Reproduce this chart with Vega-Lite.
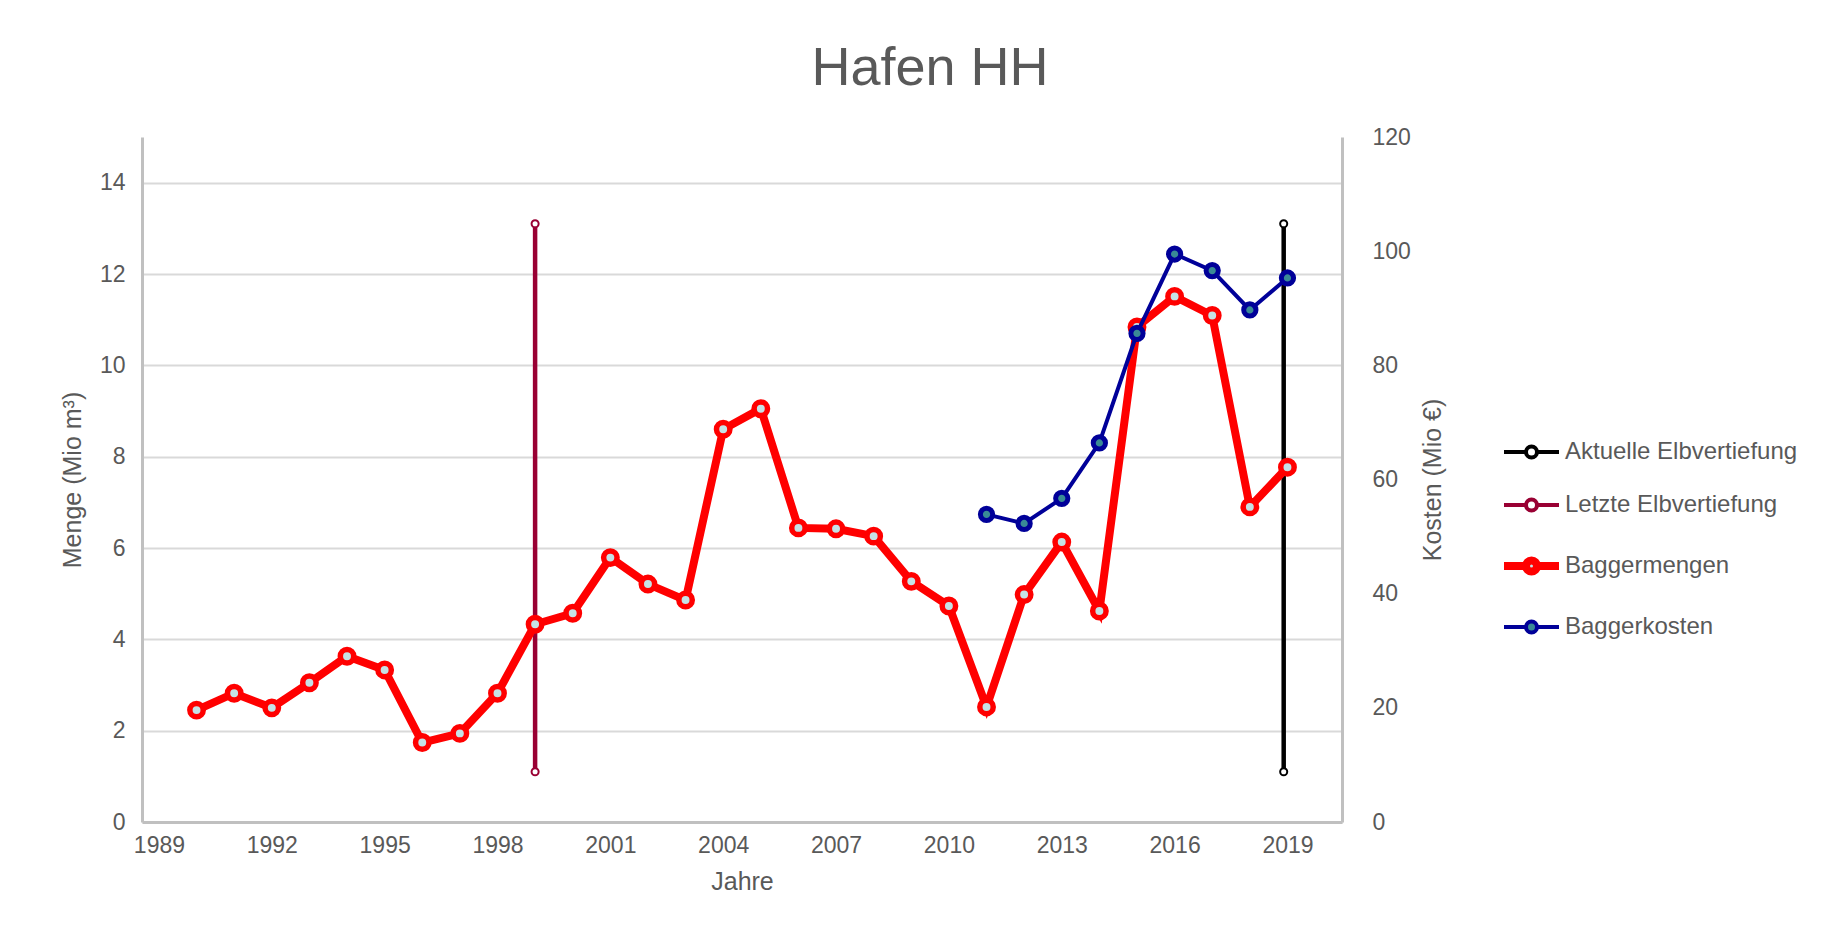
{
  "$schema": "https://vega.github.io/schema/vega-lite/v6.json",
  "width": 1200,
  "height": 685,
  "autosize": {"type": "none"},
  "padding": {"left": 142, "top": 137, "right": 494, "bottom": 118},
  "background": "white",
  "config": {
    "view": {"stroke": null},
    "font": "Liberation Sans",
    "axis": {"labelFont": "Liberation Sans", "titleFont": "Liberation Sans", "labelColor": "#595959", "titleColor": "#595959", "titleFontWeight": "normal", "labelFontSize": 23, "titleFontSize": 25}
  },
  "title": {"text": "Hafen HH", "fontSize": 54, "font": "Liberation Sans", "fontWeight": "normal", "color": "#595959", "anchor": "middle", "frame": "group", "dx": 188, "offset": 30},
  "datasets": {
    "menge": [
      {"Jahr": 1999, "Serie": "Letzte Elbvertiefung", "Wert": 1.1},
      {"Jahr": 1999, "Serie": "Letzte Elbvertiefung", "Wert": 13.1},
      {"Jahr": 2018.9, "Serie": "Aktuelle Elbvertiefung", "Wert": 1.1},
      {"Jahr": 2018.9, "Serie": "Aktuelle Elbvertiefung", "Wert": 13.1},
      {"Jahr": 1990, "Serie": "Baggermengen", "Wert": 2.45},
      {"Jahr": 1991, "Serie": "Baggermengen", "Wert": 2.82},
      {"Jahr": 1992, "Serie": "Baggermengen", "Wert": 2.5},
      {"Jahr": 1993, "Serie": "Baggermengen", "Wert": 3.05},
      {"Jahr": 1994, "Serie": "Baggermengen", "Wert": 3.63},
      {"Jahr": 1995, "Serie": "Baggermengen", "Wert": 3.33},
      {"Jahr": 1996, "Serie": "Baggermengen", "Wert": 1.74},
      {"Jahr": 1997, "Serie": "Baggermengen", "Wert": 1.94},
      {"Jahr": 1998, "Serie": "Baggermengen", "Wert": 2.82},
      {"Jahr": 1999, "Serie": "Baggermengen", "Wert": 4.33},
      {"Jahr": 2000, "Serie": "Baggermengen", "Wert": 4.57},
      {"Jahr": 2001, "Serie": "Baggermengen", "Wert": 5.79},
      {"Jahr": 2002, "Serie": "Baggermengen", "Wert": 5.21},
      {"Jahr": 2003, "Serie": "Baggermengen", "Wert": 4.86},
      {"Jahr": 2004, "Serie": "Baggermengen", "Wert": 8.6},
      {"Jahr": 2005, "Serie": "Baggermengen", "Wert": 9.05},
      {"Jahr": 2006, "Serie": "Baggermengen", "Wert": 6.44},
      {"Jahr": 2007, "Serie": "Baggermengen", "Wert": 6.42},
      {"Jahr": 2008, "Serie": "Baggermengen", "Wert": 6.26},
      {"Jahr": 2009, "Serie": "Baggermengen", "Wert": 5.27},
      {"Jahr": 2010, "Serie": "Baggermengen", "Wert": 4.73},
      {"Jahr": 2011, "Serie": "Baggermengen", "Wert": 2.52},
      {"Jahr": 2012, "Serie": "Baggermengen", "Wert": 4.98},
      {"Jahr": 2013, "Serie": "Baggermengen", "Wert": 6.13},
      {"Jahr": 2014, "Serie": "Baggermengen", "Wert": 4.62},
      {"Jahr": 2015, "Serie": "Baggermengen", "Wert": 10.84},
      {"Jahr": 2016, "Serie": "Baggermengen", "Wert": 11.51},
      {"Jahr": 2017, "Serie": "Baggermengen", "Wert": 11.09},
      {"Jahr": 2018, "Serie": "Baggermengen", "Wert": 6.9},
      {"Jahr": 2019, "Serie": "Baggermengen", "Wert": 7.77}
    ],
    "kosten": [
      {"Jahr": 2011, "Serie": "Baggerkosten", "Kosten": 53.9},
      {"Jahr": 2012, "Serie": "Baggerkosten", "Kosten": 52.3},
      {"Jahr": 2013, "Serie": "Baggerkosten", "Kosten": 56.7},
      {"Jahr": 2014, "Serie": "Baggerkosten", "Kosten": 66.4},
      {"Jahr": 2015, "Serie": "Baggerkosten", "Kosten": 85.6},
      {"Jahr": 2016, "Serie": "Baggerkosten", "Kosten": 99.5},
      {"Jahr": 2017, "Serie": "Baggerkosten", "Kosten": 96.6},
      {"Jahr": 2018, "Serie": "Baggerkosten", "Kosten": 89.7},
      {"Jahr": 2019, "Serie": "Baggerkosten", "Kosten": 95.3}
    ]
  },
  "encoding": {
    "x": {
      "field": "Jahr", "type": "quantitative",
      "scale": {"domain": [1988.55, 2020.45], "nice": false, "zero": false},
      "axis": {"values": [1989, 1992, 1995, 1998, 2001, 2004, 2007, 2010, 2013, 2016, 2019], "format": "d", "ticks": false, "grid": false, "domainColor": "#c0c0c0", "domainWidth": 3, "labelPadding": 12, "labelFlush": false, "title": "Jahre", "titlePadding": 12}
    },
    "stroke": {
      "field": "Serie", "type": "nominal",
      "scale": {"domain": ["Aktuelle Elbvertiefung", "Letzte Elbvertiefung", "Baggermengen", "Baggerkosten"], "range": ["#000000", "#990033", "#ff0000", "#000099"]},
      "legend": {
        "title": null,
        "orient": "none",
        "legendX": 1360,
        "legendY": 303,
        "symbolType": "M-1,0L1.2,0M2.3,0L4.5,0M2.3,0A0.55,0.55,0,1,1,1.2,0A0.55,0.55,0,1,1,2.3,0Z",
        "symbolSize": 400,
        "labelFontSize": 24,
        "labelFont": "Liberation Sans",
        "labelColor": "#595959",
        "labelLimit": 0,
        "labelOffset": 39,
        "rowPadding": 25,
        "encode": {
          "symbols": {
            "update": {
              "fill": {"signal": "datum.value === 'Baggermengen' ? '#c6e2e6' : (datum.value === 'Baggerkosten' ? '#3a8a96' : '#ffffff')"},
              "strokeWidth": {"signal": "datum.value === 'Baggermengen' ? 8 : 4"}
            }
          }
        }
      }
    }
  },
  "layer": [
    {
      "data": {"name": "menge"},
      "encoding": {
        "y": {
          "field": "Wert", "type": "quantitative",
          "scale": {"domain": [0, 15], "nice": false},
          "axis": {"values": [0, 2, 4, 6, 8, 10, 12, 14], "ticks": false, "grid": true, "gridColor": "#d9d9d9", "gridWidth": 2, "domainColor": "#c0c0c0", "domainWidth": 3, "labelPadding": 17, "title": "Menge (Mio m³)", "titlePadding": 14}
        }
      },
      "layer": [
        {
          "transform": [{"filter": "datum.Serie !== 'Baggermengen'"}],
          "mark": {"type": "line", "strokeWidth": 4.5}
        },
        {
          "transform": [{"filter": "datum.Serie !== 'Baggermengen'"}],
          "mark": {"type": "point", "shape": "circle", "filled": false, "fill": "#ffffff", "size": 50, "strokeWidth": 2, "opacity": 1}
        },
        {
          "transform": [{"filter": "datum.Serie === 'Baggermengen'"}],
          "mark": {"type": "line", "strokeWidth": 8}
        },
        {
          "transform": [{"filter": "datum.Serie === 'Baggermengen'"}],
          "mark": {"type": "point", "shape": "circle", "filled": false, "fill": "#c6e2e6", "size": 180, "strokeWidth": 5.5, "opacity": 1}
        }
      ]
    },
    {
      "data": {"name": "kosten"},
      "encoding": {
        "y": {
          "field": "Kosten", "type": "quantitative",
          "scale": {"domain": [0, 120], "nice": false},
          "axis": {"orient": "right", "values": [0, 20, 40, 60, 80, 100, 120], "ticks": false, "grid": false, "domainColor": "#c0c0c0", "domainWidth": 3, "labelPadding": 30, "labelAlign": "left", "title": "Kosten (Mio €)", "titleAngle": 270, "titlePadding": 35}
        }
      },
      "layer": [
        {"mark": {"type": "line", "strokeWidth": 4}},
        {"mark": {"type": "point", "shape": "circle", "filled": false, "fill": "#3a8a96", "size": 150, "strokeWidth": 5, "opacity": 1}}
      ]
    }
  ],
  "resolve": {"scale": {"y": "independent"}}
}
